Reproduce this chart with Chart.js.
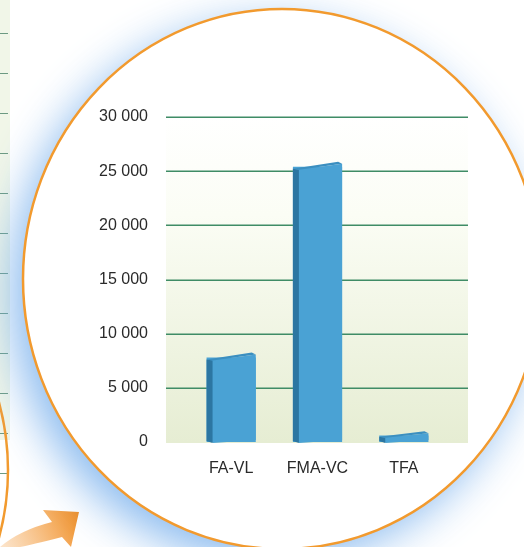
<!DOCTYPE html>
<html lang="fr">
<head>
  <meta charset="UTF-8">
  <title>FA-VL / FMA-VC / TFA</title>
  <script src="https://cdn.jsdelivr.net/npm/chart.js@4/dist/chart.umd.min.js"></script>
  <style>
    html, body {
      margin: 0;
      padding: 0;
      background: #ffffff;
    }
    #wrap {
      position: relative;
      width: 524px;
      height: 547px;
    }
  </style>
</head>
<body>
  <div id="wrap">
    <canvas id="chart" width="524" height="547"></canvas>
  </div>

  <script>
    // données
    const categories = ['FA-VL', 'FMA-VC', 'TFA'];
    const values = [7800, 25400, 600];
    const yTicks = [0, 5000, 10000, 15000, 20000, 25000, 30000];

    function fmt(v) {
      return String(v).replace(/\B(?=(\d{3})+(?!\d))/g, ' ');
    }

    // décor : cercles, halo, flèche, fond du graphique et lignes
    const decor = {
      id: 'decor',
      beforeDraw(chart) {
        const ctx = chart.ctx;
        const area = chart.chartArea;
        const y = chart.scales.y;
        ctx.save();
        ctx.fillStyle = '#ffffff';
        ctx.fillRect(0, 0, chart.width, chart.height);

        // bout du cercle de gauche
        ctx.fillStyle = '#f1f6e8';
        ctx.fillRect(0, 0, 10, 440);
        ctx.strokeStyle = '#6c9a82';
        ctx.lineWidth = 1;
        for (let ly = 33; ly < 480; ly += 40) {
          ctx.beginPath();
          ctx.moveTo(0, ly + 0.5);
          ctx.lineTo(8, ly + 0.5);
          ctx.stroke();
        }
        ctx.strokeStyle = '#f29a2e';
        ctx.lineWidth = 2.5;
        ctx.beginPath();
        ctx.arc(-250, 470, 258, -0.35, 0.35);
        ctx.stroke();

        // flèche orange
        const g = ctx.createLinearGradient(0, 547, 80, 510);
        g.addColorStop(0, 'rgba(245,170,90,0.3)');
        g.addColorStop(1, '#f08a1c');
        ctx.fillStyle = g;
        ctx.beginPath();
        ctx.moveTo(0, 547);
        ctx.quadraticCurveTo(20, 530, 52, 522);
        ctx.lineTo(43, 510);
        ctx.lineTo(79, 512);
        ctx.lineTo(71, 547);
        ctx.lineTo(62, 537);
        ctx.quadraticCurveTo(30, 545, 20, 547);
        ctx.closePath();
        ctx.fill();

        // grand cercle avec halo bleu
        ctx.save();
        ctx.shadowColor = 'rgba(110,170,235,0.8)';
        ctx.shadowBlur = 45;
        ctx.shadowOffsetX = -12;
        ctx.shadowOffsetY = 14;
        ctx.fillStyle = '#ffffff';
        ctx.beginPath();
        ctx.ellipse(282, 279, 259, 270, 0, 0, Math.PI * 2);
        ctx.fill();
        ctx.restore();
        ctx.strokeStyle = '#f29a2e';
        ctx.lineWidth = 2.5;
        ctx.beginPath();
        ctx.ellipse(282, 279, 259, 270, 0, 0, Math.PI * 2);
        ctx.stroke();

        // fond du graphique
        const left = area.left - 22;
        const right = area.right + 21;
        const bg = ctx.createLinearGradient(0, area.top, 0, area.bottom);
        bg.addColorStop(0, '#ffffff');
        bg.addColorStop(0.3, '#fbfdf5');
        bg.addColorStop(1, '#e6edd3');
        ctx.fillStyle = bg;
        ctx.fillRect(left, area.top, right - left, area.bottom - area.top + 1);

        // lignes horizontales
        ctx.strokeStyle = '#3f8c66';
        ctx.lineWidth = 1.5;
        yTicks.forEach(t => {
          if (t === 0) return;
          const py = Math.round(y.getPixelForValue(t)) + 0.25;
          ctx.beginPath();
          ctx.moveTo(left, py);
          ctx.lineTo(right, py);
          ctx.stroke();
        });
        ctx.restore();
      },
      // faces 3D des barres
      afterDatasetsDraw(chart) {
        const ctx = chart.ctx;
        const meta = chart.getDatasetMeta(0);
        ctx.save();
        meta.data.forEach(bar => {
          const L = bar.x - bar.width / 2;
          const R = bar.x + bar.width / 2;
          const T = bar.y;
          const B = bar.base;
          const d = 6;
          const s = Math.min(3, (B - T) / 3);
          // face avant
          ctx.fillStyle = '#4aa2d4';
          ctx.beginPath();
          ctx.moveTo(L + d, T + s);
          ctx.lineTo(R, T - s);
          ctx.lineTo(R, B - 2);
          ctx.lineTo(L + d, B + 1);
          ctx.closePath();
          ctx.fill();
          // côté gauche
          ctx.fillStyle = '#2c76a2';
          ctx.beginPath();
          ctx.moveTo(L, T + s - 1);
          ctx.lineTo(L + d, T + s);
          ctx.lineTo(L + d, B + 1);
          ctx.lineTo(L, B - 1);
          ctx.closePath();
          ctx.fill();
          // dessus
          ctx.fillStyle = '#3b8fc0';
          ctx.beginPath();
          ctx.moveTo(L, T + s - 1);
          ctx.lineTo(R - 4, T - s - 2);
          ctx.lineTo(R, T - s);
          ctx.lineTo(L + d, T + s);
          ctx.closePath();
          ctx.fill();
        });
        ctx.restore();
      }
    };

    const ctx = document.getElementById('chart').getContext('2d');
    new Chart(ctx, {
      type: 'bar',
      data: {
        labels: categories,
        datasets: [{
          data: values,
          backgroundColor: '#4aa2d4',
          borderWidth: 0,
          categoryPercentage: 1,
          barPercentage: 0.57
        }]
      },
      options: {
        responsive: false,
        animation: false,
        layout: {
          padding: { left: 0, right: 77, top: 117, bottom: 0 }
        },
        plugins: {
          legend: { display: false },
          tooltip: { enabled: false }
        },
        scales: {
          x: {
            grid: { display: false, drawTicks: false },
            border: { display: false },
            ticks: {
              color: '#2a2a2a',
              padding: 17,
              font: { family: 'Liberation Sans', size: 16 }
            },
            afterFit(scale) { scale.height = 105; }
          },
          y: {
            min: 0,
            max: 30000,
            grid: { display: false, drawTicks: false },
            border: { display: false },
            afterBuildTicks(scale) {
              scale.ticks = yTicks.map(v => ({ value: v }));
            },
            ticks: {
              color: '#2a2a2a',
              padding: 40,
              font: { family: 'Liberation Sans', size: 16 },
              callback: v => fmt(v)
            },
            afterFit(scale) { scale.width = 188; }
          }
        }
      },
      plugins: [decor]
    });
  </script>
</body>
</html>
